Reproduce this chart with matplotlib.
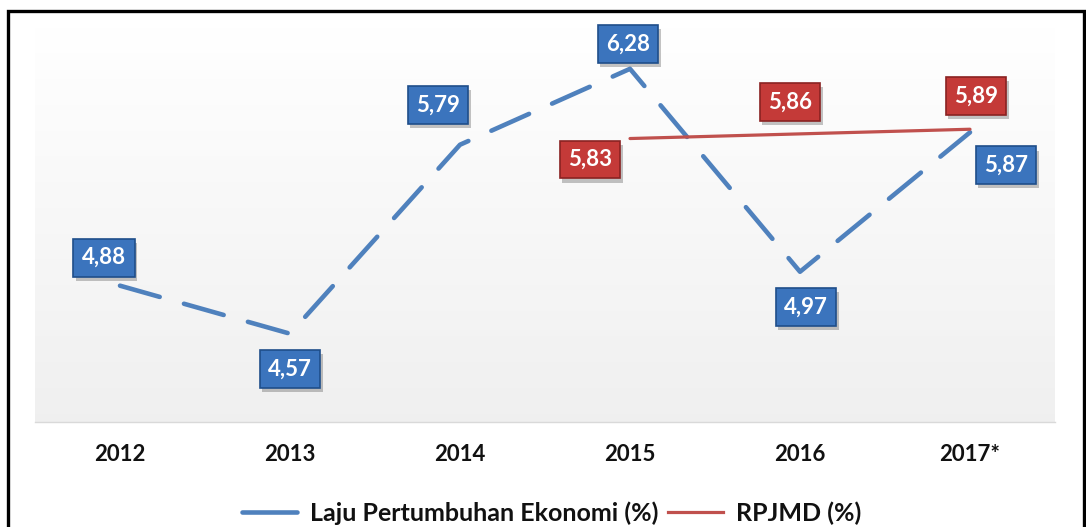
import matplotlib
matplotlib.use("Agg")
import matplotlib.pyplot as plt
import matplotlib.patheffects as pe
from matplotlib.patches import Rectangle
import numpy as np

years = ["2012", "2013", "2014", "2015", "2016", "2017*"]
growth = [4.88, 4.57, 5.79, 6.28, 4.97, 5.87]
rpjmd_years_idx = [3, 4, 5]
rpjmd = [5.83, 5.86, 5.89]

growth_label = "Laju Pertumbuhan Ekonomi (%)"
rpjmd_label = "RPJMD (%)"

# label offsets (pixels: dx, dy upward positive)
growth_off = [(-16, 28), (0, -35), (-22, 40), (-2, 25), (6, -35), (36, -33)]
rpjmd_off = [(-40, -21), (-10, 32), (6, 33)]

plt.rcParams['font.family'] = ['Lato', 'DejaVu Sans']

W, H = 1086, 527
fig = plt.figure(figsize=(W / 100, H / 100), dpi=100)
fig.patch.set_facecolor("white")

# outer border
fig.patches.append(Rectangle((8 / W, -0.1), (1084 - 8) / W, (H - 11) / H + 0.1,
                             transform=fig.transFigure, fill=False,
                             edgecolor="black", linewidth=2.4))

ax = fig.add_axes([35 / W, (H - 422) / H, (1055 - 35) / W, (422 - 27) / H])
ax.set_xlim(-0.5, 5.5)
ax.set_ylim(4.0, 6.55)

# gradient background
grad = np.linspace(0, 1, 256).reshape(-1, 1)
top = np.array([1.0, 1.0, 1.0])
bot = np.array([0.94, 0.94, 0.94])
img = top[None, None, :] * (1 - grad[..., None]) + bot[None, None, :] * grad[..., None]
ax.imshow(img, extent=[-0.5, 5.5, 4.0, 6.55], aspect="auto", zorder=0)

x = np.arange(len(years))
ax.plot(x, growth, color="#4f81bd", lw=3.3, dashes=(9, 5.5),
        dash_capstyle="round", solid_capstyle="round", zorder=2,
        label=growth_label)
ax.plot(rpjmd_years_idx, rpjmd, color="#c0504d", lw=2.3,
        solid_capstyle="round", zorder=2, label=rpjmd_label)

def box_label(xv, yv, txt, off, face, edge):
    t = ax.annotate(txt, (xv, yv), xytext=(off[0] * 0.72, off[1] * 0.72),
                    textcoords="offset points", ha="center", va="center",
                    fontsize=16, fontweight="bold", color="white", zorder=5,
                    bbox=dict(boxstyle="square,pad=0.38", facecolor=face,
                              edgecolor=edge, linewidth=1.2))
    t.get_bbox_patch().set_path_effects([
        pe.SimplePatchShadow(offset=(2, -3), shadow_rgbFace="#555555", alpha=0.35),
        pe.Normal()])

for xi, v, off in zip(x, growth, growth_off):
    box_label(xi, v, f"{v:.2f}".replace(".", ","), off, "#3b74bd", "#1f4e8a")
for xi, v, off in zip(rpjmd_years_idx, rpjmd, rpjmd_off):
    box_label(xi, v, f"{v:.2f}".replace(".", ","), off, "#c43a38", "#8a2222")

ax.set_xticks(x)
ax.set_xticklabels(years, fontsize=16, fontweight="bold", color="#111111")
ax.tick_params(axis="x", length=0, pad=16)
ax.set_yticks([])
for s in ["top", "left", "right"]:
    ax.spines[s].set_visible(False)
ax.spines["bottom"].set_color("#d9d9d9")
ax.spines["bottom"].set_linewidth(1.0)

h1, = plt.plot([], [], color="#4f81bd", lw=3.3, solid_capstyle="round")
h2, = plt.plot([], [], color="#c0504d", lw=2.3)
leg = fig.legend([h1, h2], [growth_label, rpjmd_label], loc="center",
                 bbox_to_anchor=(0.508, 14 / H), ncol=2, frameon=False,
                 handlelength=2.2, columnspacing=0.4, handletextpad=0.5,
                 borderpad=0.0,
                 prop=dict(size=18, weight="bold"))
for t in leg.get_texts():
    t.set_color("#111111")

fig.savefig("out.png", dpi=100)
